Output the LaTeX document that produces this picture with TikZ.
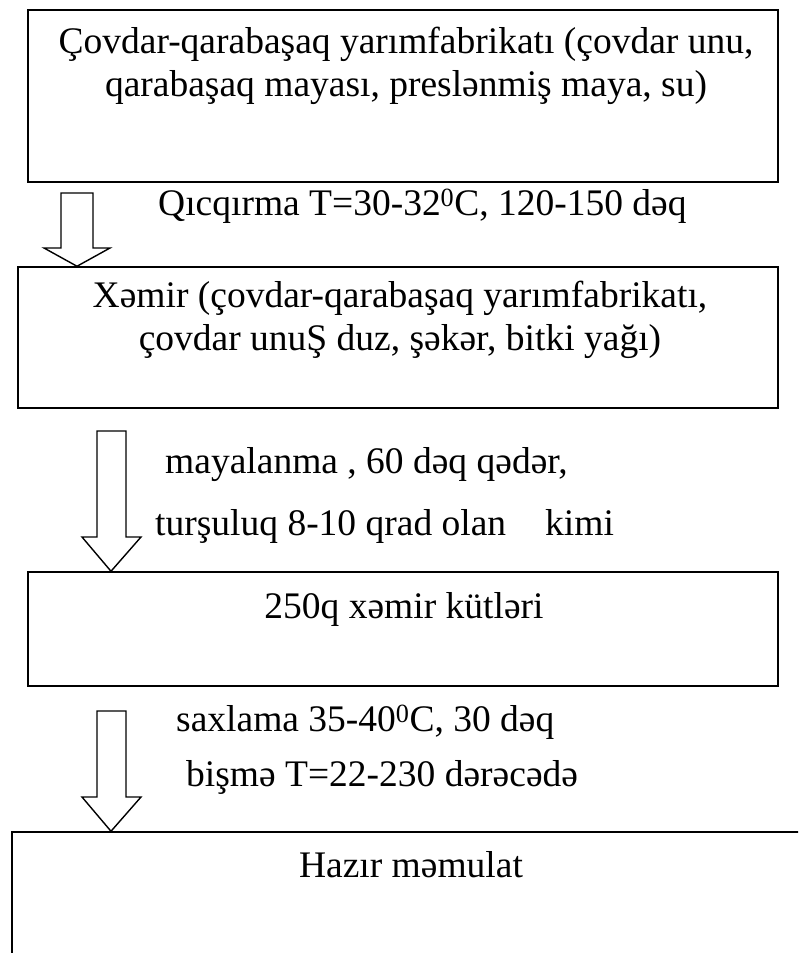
\documentclass[tikz,border=0pt]{standalone}
\usepackage{fontspec}
\setmainfont{Liberation Serif}
\usetikzlibrary{positioning, calc}

\begin{document}
\begin{tikzpicture}[x=1pt, y=-1pt,
  stagebox/.style={draw, line width=1.5pt, inner sep=0pt},
  boxtext/.style={font=\fontsize{37.5}{43}\selectfont, align=center, inner sep=0pt, text height=25.5pt, text depth=8pt},
  steptext/.style={font=\fontsize{37.5}{43}\selectfont, anchor=west, inner sep=0pt, text height=25.5pt, text depth=8pt},
  hollowarrow/.style={draw, line width=1.4pt, fill=white, line join=miter}]
  \useasboundingbox (0,0) rectangle (798,953);
  \clip (0,0) rectangle (798,953);

  % Rye-buckwheat semi-product
  \node[stagebox, minimum width=750pt, minimum height=172pt] (semi) at (403,96) {};
  \node[boxtext] (semitext) at (406,88) {Çovdar-qarabaşaq yarımfabrikatı (çovdar unu,\\qarabaşaq mayası, preslənmiş maya, su)};

  % Dough
  \node[stagebox, minimum width=760pt, minimum height=141pt] (dough) at (398,337.5) {};
  \node[boxtext] (doughtext) at (400,342) {Xəmir (çovdar-qarabaşaq yarımfabrikatı,\\çovdar unuŞ duz, şəkər, bitki yağı)};

  % Dough pieces
  \node[stagebox, minimum width=750pt, minimum height=114pt] (pieces) at (403,629) {};
  \node[boxtext] (piecestext) at (404,610) {250q xəmir kütləri};

  % Finished product
  \node[stagebox, minimum width=800pt, minimum height=200pt] (product) at (412,932) {};
  \node[boxtext] (producttext) at (411,869) {Hazır məmulat};

  % Fermentation
  \node[steptext] (ferment) at (158,207) {Qıcqırma T=30-32\textsuperscript{0}C, 120-150 dəq};
  \coordinate (a1) at (77,193);
  \draw[hollowarrow] (61,193) -- (61,248) -- (44,248) -- (a1 |- dough.north) -- (110,248) -- (93,248) -- (93,193) -- cycle;

  % Proofing
  \node[steptext] (proof) at (165,465) {mayalanma , 60 dəq qədər,};
  \node[steptext] (acid) at (155,527) {turşuluq 8-10 qrad olan\hspace{39pt}kimi};
  \coordinate (a2) at (111,431);
  \draw[hollowarrow] (97,431) -- (97,537) -- (82,537) -- (a2 |- pieces.north) -- (141,537) -- (126,537) -- (126,431) -- cycle;

  % Storage and baking
  \node[steptext] (store) at (176,723) {saxlama 35-40\textsuperscript{0}C, 30 dəq};
  \node[steptext] (bake) at (186,778) {bişmə T=22-230 dərəcədə};
  \coordinate (a3) at (111,711);
  \draw[hollowarrow] (97,711) -- (97,797) -- (82,797) -- (a3 |- product.north) -- (141,797) -- (126,797) -- (126,711) -- cycle;
\end{tikzpicture}
\end{document}
